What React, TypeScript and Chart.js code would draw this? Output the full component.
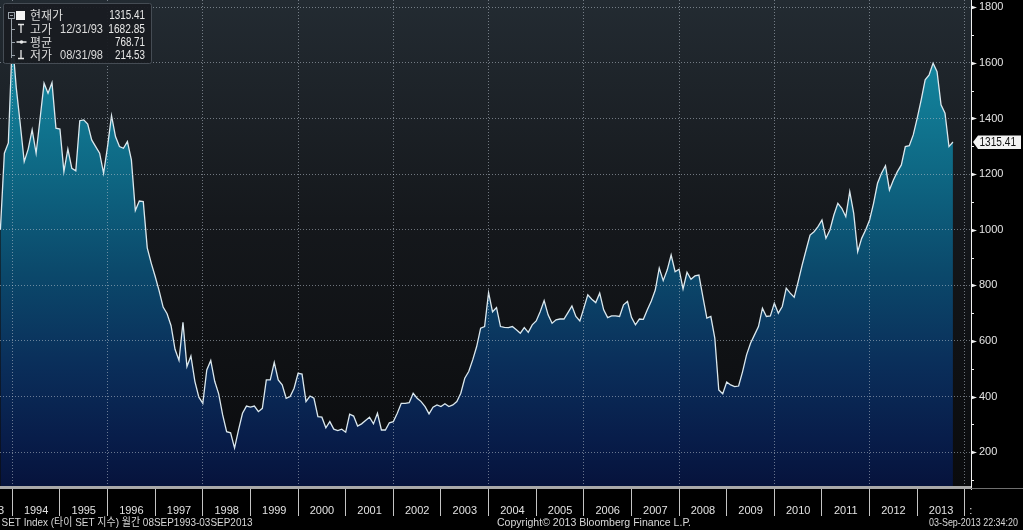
import React, { useEffect, useRef } from 'react';
import { Chart, registerables } from 'chart.js';

Chart.register(...registerables);

// ---------------- data ----------------
// monthly closes, first point = end of Sep 1993, last point = 03 Sep 2013
const firstMonth = '1993-09';
const setIndexMonthly: number[] = [
  1000, 1275, 1312, 1683,
  1510, 1380, 1245, 1290, 1359, 1275, 1400, 1527, 1491, 1529, 1365, 1362, // 1994
  1209, 1290, 1221, 1212, 1392, 1395, 1380, 1323, 1299, 1275, 1203, 1300, // 1995
  1410, 1335, 1299, 1293, 1317, 1251, 1069, 1103, 1101, 935, 880, 832, // 1996
  780, 722, 698, 655, 570, 530, 667, 508, 546, 455, 398, 376, // 1997
  496, 530, 455, 410, 334, 274, 270, 215, 280, 340, 366, 362, // 1998
  366, 346, 358, 460, 460, 523, 460, 442, 394, 400, 430, 484, // 1999
  481, 382, 402, 394, 328, 326, 288, 310, 283, 278, 283, 272, // 2000
  337, 330, 294, 302, 314, 326, 302, 340, 280, 280, 306, 310, // 2001
  340, 376, 376, 378, 412, 394, 382, 364, 338, 362, 370, 364, // 2002
  374, 364, 370, 382, 412, 466, 490, 532, 580, 646, 652, 774, // 2003
  705, 720, 652, 649, 648, 652, 640, 628, 648, 631, 658, 672, // 2004
  705, 745, 694, 664, 676, 679, 679, 702, 726, 688, 672, 718, // 2005
  766, 750, 738, 772, 712, 684, 690, 690, 688, 730, 742, 685, // 2006
  658, 679, 678, 712, 744, 783, 862, 817, 855, 909, 849, 858, // 2007
  787, 847, 822, 834, 837, 759, 682, 688, 610, 424, 410, 452, // 2008
  442, 436, 438, 490, 550, 592, 622, 652, 718, 688, 690, 736, // 2009
  700, 724, 790, 772, 757, 813, 873, 927, 981, 993, 1011, 1035, // 2010
  969, 999, 1053, 1095, 1077, 1047, 1137, 1059, 921, 969, 999, 1035, // 2011
  1095, 1167, 1203, 1230, 1143, 1179, 1209, 1233, 1299, 1302, 1341, 1401, // 2012
  1467, 1539, 1557, 1599, 1568, 1449, 1419, 1299, 1315.41, // 2013
];

const yearLabels = [
  '1993', '1994', '1995', '1996', '1997', '1998', '1999', '2000', '2001', '2002', '2003',
  '2004', '2005', '2006', '2007', '2008', '2009', '2010', '2011', '2012', '2013',
];
const boundaryYears = [
  1994, 1995, 1996, 1997, 1998, 1999, 2000, 2001, 2002, 2003, 2004,
  2005, 2006, 2007, 2008, 2009, 2010, 2011, 2012, 2013, 2014,
];
const gridYears = [1994, 1996, 1998, 2000, 2002, 2004, 2006, 2008, 2010, 2012, 2014];
const yTickValues = [
  100, 200, 300, 400, 500, 600, 700, 800, 900, 1000,
  1100, 1200, 1300, 1400, 1500, 1600, 1700, 1800,
];
const yLabelStep = 200;

const legendNames = ['현재가', '고가', '평균', '저가'];
const legendDates = ['', '12/31/93', '', '08/31/98'];
const legendValues = ['1315.41', '1682.85', '768.71', '214.53'];
const lastValue = 1315.41;
const lastLabel = '1315.41';

const footerLeft = 'SET Index (타이 SET 지수) 월간 08SEP1993-03SEP2013';
const footerCenter = 'Copyright© 2013 Bloomberg Finance L.P.';
const footerRight = '03-Sep-2013 22:34:20';

// ---------------- layout ----------------
const W = 1023;
const H = 530;
const PLOT_RIGHT = 971;
const PLOT_BOTTOM = 487;
const X_MIN = -0.1;
const X_MAX = 244.55;
const Y_MIN = 75;
const Y_MAX = 1826;
const PARTIAL_LABEL_SHIFT = 0.85; // first (clipped) year label sits a little right of mid-year
const LEGEND_ROWS_Y = [15.5, 29, 42, 55];
const LEGEND_DATE_W = 43;
const LEGEND_VALUE_W = [35.7, 36.7, 30, 30];
const TAG_TEXT_W = 36.5;
const FOOTER_W = [251, 194, 89];

const SANS = "'Liberation Sans', 'Noto Sans CJK KR', sans-serif";
const KOREAN = "'Noto Sans CJK KR', 'Liberation Sans', sans-serif";
const GRID = 'rgba(185,195,205,0.55)';

// month index of the end of December before year y (= year boundary)
const boundaryIndex = (y: number) => (y - 1994) * 12 + 3;

type XT = { value: number; label: string; kind: 'b' | 'm' };
const xTicks: XT[] = [];
boundaryYears.forEach((y) => xTicks.push({ value: boundaryIndex(y), label: '', kind: 'b' }));
yearLabels.forEach((l, i) =>
  xTicks.push({ value: boundaryIndex(Number(l)) + 6 + (i === 0 ? PARTIAL_LABEL_SHIFT : 0), label: l, kind: 'm' })
);
xTicks.push({ value: 244.47, label: ':', kind: 'm' });
xTicks.sort((a, b) => a.value - b.value);
const xTickMap = new Map<number, XT>(xTicks.map((t) => [t.value, t]));
const gridSet = new Set(gridYears.map(boundaryIndex));

const points = setIndexMonthly.map((v, i) => ({ x: i, y: v }));

// draw text squeezed horizontally to a given width
function fitText(ctx: CanvasRenderingContext2D, text: string, x: number, y: number, w: number, align: 'left' | 'right') {
  const m = ctx.measureText(text).width || 1;
  const s = w / m;
  ctx.save();
  ctx.textAlign = 'left';
  ctx.translate(align === 'left' ? x : x - w, y);
  ctx.scale(s, 1);
  ctx.fillText(text, 0, 0);
  ctx.restore();
}

const decor = {
  id: 'decor',
  beforeDraw(chart: any) {
    const { ctx, chartArea: a, width, height } = chart;
    ctx.save();
    ctx.fillStyle = '#000';
    ctx.fillRect(0, 0, width, height);
    const g = ctx.createLinearGradient(0, a.top, 0, a.bottom);
    g.addColorStop(0, '#232b32');
    g.addColorStop(0.45, '#15181c');
    g.addColorStop(1, '#0a0b0d');
    ctx.fillStyle = g;
    ctx.fillRect(a.left, a.top, a.right - a.left, a.bottom - a.top);
    ctx.restore();
  },
  afterDraw(chart: any) {
    const { ctx, chartArea: a } = chart;
    const ys = chart.scales.y;
    ctx.save();

    // y tick marks
    ctx.fillStyle = '#f0f0f0';
    ctx.strokeStyle = '#f0f0f0';
    ctx.lineWidth = 1;
    yTickValues.forEach((v) => {
      const py = Math.round(ys.getPixelForValue(v)) + 0.5;
      if (v % yLabelStep === 0) {
        ctx.beginPath();
        ctx.moveTo(a.right, py - 2);
        ctx.lineTo(a.right + 6, py);
        ctx.lineTo(a.right, py + 2);
        ctx.closePath();
        ctx.fill();
      } else {
        ctx.beginPath();
        ctx.moveTo(a.right, py);
        ctx.lineTo(a.right + 3, py);
        ctx.stroke();
      }
    });

    // axis line continues a little below the band, thin line right of band
    ctx.strokeStyle = '#e0e0e0';
    ctx.beginPath();
    ctx.moveTo(a.right + 0.5, a.bottom);
    ctx.lineTo(a.right + 0.5, a.bottom + 3);
    ctx.stroke();
    ctx.strokeStyle = '#6f6f6f';
    ctx.beginPath();
    ctx.moveTo(a.right, a.bottom + 1.5);
    ctx.lineTo(W, a.bottom + 1.5);
    ctx.stroke();

    // price tag
    const py = ys.getPixelForValue(lastValue);
    ctx.fillStyle = '#f2f2f2';
    ctx.beginPath();
    ctx.moveTo(a.right + 2, py);
    ctx.lineTo(a.right + 7, py - 6.5);
    ctx.lineTo(W - 2, py - 6.5);
    ctx.lineTo(W - 2, py + 7);
    ctx.lineTo(a.right + 7, py + 7);
    ctx.closePath();
    ctx.fill();
    ctx.fillStyle = '#111';
    ctx.font = `12px ${SANS}`;
    ctx.textBaseline = 'middle';
    fitText(ctx, lastLabel, a.right + 8.5, py + 0.5, TAG_TEXT_W, 'left');

    // legend box
    ctx.fillStyle = 'rgba(24,28,33,0.94)';
    ctx.strokeStyle = '#454c54';
    ctx.lineWidth = 1;
    ctx.beginPath();
    ctx.roundRect(3.5, 3.5, 148, 60, 2);
    ctx.fill();
    ctx.stroke();
    const rows = LEGEND_ROWS_Y;
    // tree
    ctx.strokeStyle = '#9aa2aa';
    ctx.beginPath();
    ctx.moveTo(11.5, 18.5);
    ctx.lineTo(11.5, 58);
    for (let r = 1; r < rows.length; r++) {
      ctx.moveTo(11.5, Math.round(rows[r]) + 0.5);
      ctx.lineTo(15, Math.round(rows[r]) + 0.5);
    }
    ctx.stroke();
    ctx.strokeRect(8.5, 12.5, 6, 6);
    ctx.beginPath();
    ctx.moveTo(10, 15.5);
    ctx.lineTo(13, 15.5);
    ctx.stroke();
    // icons
    ctx.fillStyle = '#f4f4f4';
    ctx.fillRect(16, 11, 9, 9);
    ctx.strokeStyle = '#e8e8e8';
    ctx.lineWidth = 1.3;
    ctx.beginPath();
    ctx.moveTo(18, 24.5); ctx.lineTo(24, 24.5);
    ctx.moveTo(21, 24.5); ctx.lineTo(21, 33);
    ctx.moveTo(16.5, 42); ctx.lineTo(26.5, 42);
    ctx.moveTo(21, 50); ctx.lineTo(21, 58.5);
    ctx.moveTo(18, 58.5); ctx.lineTo(24, 58.5);
    ctx.stroke();
    ctx.beginPath();
    ctx.arc(21.5, 42, 1.8, 0, Math.PI * 2);
    ctx.fillStyle = '#e8e8e8';
    ctx.fill();
    // legend texts
    ctx.textBaseline = 'middle';
    rows.forEach((ry, i) => {
      ctx.fillStyle = '#dcdcdc';
      ctx.textAlign = 'left';
      ctx.font = `12px ${KOREAN}`;
      ctx.fillText(legendNames[i], 30, ry);
      ctx.font = `12px ${SANS}`;
      if (legendDates[i]) fitText(ctx, legendDates[i], 60, ry + 0.5, LEGEND_DATE_W, 'left');
      ctx.fillStyle = '#e8e8e8';
      fitText(ctx, legendValues[i], 145, ry + 0.5, LEGEND_VALUE_W[i], 'right');
    });

    // footer
    ctx.fillStyle = '#d8d8d8';
    ctx.font = `11px ${SANS}`;
    ctx.textBaseline = 'middle';
    fitText(ctx, footerLeft, 1.5, 523, FOOTER_W[0], 'left');
    fitText(ctx, footerCenter, 497, 523, FOOTER_W[1], 'left');
    fitText(ctx, footerRight, 1018, 523, FOOTER_W[2], 'right');
    ctx.restore();
  },
};

export default function App() {
  const ref = useRef<HTMLCanvasElement>(null);

  useEffect(() => {
    const canvas = ref.current;
    if (!canvas) return;
    const chart = new Chart(canvas, {
      type: 'line',
      data: {
        datasets: [
          {
            data: points,
            borderColor: '#dbe8ee',
            borderWidth: 1.3,
            pointRadius: 0,
            tension: 0,
            fill: 'start',
            backgroundColor: (c: any) => {
              const area = c.chart.chartArea;
              if (!area) return 'rgba(16,100,130,1)';
              const g = c.chart.ctx.createLinearGradient(0, area.top, 0, area.bottom);
              g.addColorStop(0, '#1a90a6');
              g.addColorStop(0.15, '#13829b');
              g.addColorStop(0.35, '#0e6884');
              g.addColorStop(0.55, '#0b4a6c');
              g.addColorStop(0.75, '#0a2e5a');
              g.addColorStop(0.9, '#081d4a');
              g.addColorStop(1, '#06133c');
              return g;
            },
          },
        ],
      },
      options: {
        animation: false,
        responsive: false,
        maintainAspectRatio: false,
        devicePixelRatio: 1,
        events: [],
        layout: { padding: 0 },
        plugins: { legend: { display: false }, tooltip: { enabled: false } },
        scales: {
          x: {
            type: 'linear',
            position: 'bottom',
            min: X_MIN,
            max: X_MAX,
            bounds: 'data',
            afterBuildTicks: (s: any) => {
              s.ticks = xTicks.map((t) => ({ value: t.value }));
            },
            afterFit: (s: any) => {
              s.height = H - PLOT_BOTTOM;
              s.paddingLeft = 0;
              s.paddingRight = 0;
            },
            grid: {
              z: 1,
              lineWidth: 1,
              color: (c: any) => (c.tick && gridSet.has(c.tick.value) ? GRID : 'transparent'),
              drawTicks: true,
              tickLength: 29,
              tickWidth: 1,
              tickColor: (c: any) => {
                const t = c.tick && xTickMap.get(c.tick.value);
                return t && t.kind === 'b' ? '#c4c4c4' : 'transparent';
              },
            },
            border: { display: true, color: '#a9a9a9', width: 3, dash: [1, 2], z: 1 },
            ticks: {
              autoSkip: false,
              maxRotation: 0,
              minRotation: 0,
              padding: -12,
              color: '#e2e2e2',
              font: { family: SANS, size: 11 },
              callback: (v: any) => {
                const t = xTickMap.get(Number(v));
                return t ? t.label : '';
              },
            },
          },
          y: {
            type: 'linear',
            position: 'right',
            min: Y_MIN,
            max: Y_MAX,
            bounds: 'data',
            afterBuildTicks: (s: any) => {
              s.ticks = yTickValues.map((v) => ({ value: v }));
            },
            afterFit: (s: any) => {
              s.width = W - PLOT_RIGHT;
              s.paddingTop = 0;
              s.paddingBottom = 0;
            },
            grid: {
              z: 1,
              lineWidth: 1,
              drawTicks: false,
              color: (c: any) => (c.tick && c.tick.value % yLabelStep === 0 ? GRID : 'transparent'),
            },
            border: { display: true, color: '#f0f0f0', width: 1, dash: [1, 2], z: 1 },
            ticks: {
              padding: 8,
              color: '#e4e4e4',
              font: { family: SANS, size: 11 },
              callback: (v: any) => (Number(v) % yLabelStep === 0 ? String(v) : ''),
            },
          },
        },
      },
      plugins: [decor],
    } as any);
    return () => chart.destroy();
  }, []);

  return (
    <div
      data-first-month={firstMonth}
      style={{ position: 'fixed', left: 0, top: 0, width: W, height: H, background: '#000', overflow: 'hidden' }}
    >
      <canvas ref={ref} width={W} height={H} style={{ display: 'block', width: W, height: H }} />
    </div>
  );
}
